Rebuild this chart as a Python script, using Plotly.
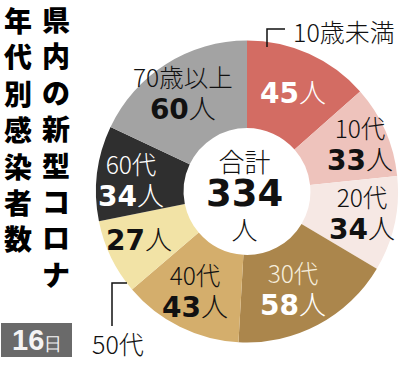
import plotly.graph_objects as go

# ---- data ----
categories = ["10歳未満", "10代", "20代", "30代", "40代", "50代", "60代", "70歳以上"]
counts = [45, 33, 34, 58, 43, 27, 34, 60]
total = sum(counts)
title_right = "県内の新型コロナ"
title_left = "年代別感染者数"
date_label = "16日"

# ---- styles ----
colors = ["#d36c63", "#eec3bc", "#f6e8e4", "#ab864c", "#d4ae6c", "#f2e3a6", "#2f2f2f", "#a3a3a3"]
cat_colors = ["#111", "#111", "#111", "#f6eedc", "#111", "#111", "#ffffff", "#111"]
num_colors = ["#ffffff", "#111", "#111", "#ffffff", "#111", "#111", "#ffffff", "#111"]
# label placement in pixels (layout only); None = category drawn outside the ring
cat_out = {0: (344, 31), 5: (118, 343)}
label_pos = [(293, 92), (360, 144), (362, 213), (293, 289), (195, 291), (139, 239), (131, 180), (183, 93)]

W, H = 400, 367
def px(x):
    return x / W
def py(y):
    return 1 - y / H

JP = "Noto Sans CJK JP"
NUM = "DejaVu Sans"

fig = go.Figure(go.Pie(
    values=counts, labels=categories, sort=False, direction="clockwise", rotation=0,
    hole=0.42, textinfo="none", hoverinfo="label+value",
    marker=dict(colors=colors, line=dict(width=0)),
    domain=dict(x=[px(96), px(398)], y=[py(343), py(40)]),
    showlegend=False,
))

def note(x, y, text, **font):
    return dict(x=px(x), y=py(y), text=text, showarrow=False,
                xref="paper", yref="paper", xanchor="center", yanchor="middle",
                align="center", font=font)

def count_html(n, color):
    return (f"<span style='font-family:{NUM};font-size:28px;color:{color}'><b>{n}</b></span>"
            f"<span style='font-size:27px;color:{color}'>人</span>")

ann = []
for i, (c, n, lp, cc, nc) in enumerate(zip(categories, counts, label_pos, cat_colors, num_colors)):
    if i in cat_out:
        ox, oy = cat_out[i]
        ann.append(note(ox, oy, c, family=JP, size=25, color="#111", weight=300))
        ann.append(note(lp[0], lp[1], count_html(n, nc), family=JP, size=25, color=nc, weight=300))
    else:
        ann.append(note(lp[0], lp[1], f"{c}<br>{count_html(n, nc)}",
                        family=JP, size=24.5, color=cc, weight=300))

# centre total
ann.append(note(244, 194,
                f"合計<br><span style='font-family:{NUM};font-size:37px'><b>{total}</b></span><br>人",
                family=JP, size=26, color="#111", weight=300))

# vertical title: one stacked annotation per column
tsize = 28
pitch = 1.3 * tsize
a = note(56, 19 + (len(title_right) - 1) * pitch / 2, "<br>".join(title_right),
         family=JP, size=tsize, color="#000", weight=900)
a["borderpad"] = 0
ann.append(a)
a = note(18, 20 + (len(title_left) - 1) * pitch / 2, "<br>".join(title_left),
         family=JP, size=tsize, color="#000", weight=900)
a["borderpad"] = 0
ann.append(a)

# date box
ann.append(note(37, 340,
                f"<b>{date_label[:-1]}</b><span style='font-size:18px'>{date_label[-1]}</span>",
                family="Liberation Sans", size=29, color="#f4f4f4"))

shapes = [
    dict(type="rect", xref="paper", yref="paper", x0=px(1), x1=px(72), y0=py(357), y1=py(323),
         fillcolor="#6a6a6a", line=dict(width=0), layer="below"),
    # bracket for 10歳未満
    dict(type="path", xref="paper", yref="paper",
         path=f"M {px(285)} {py(29)} L {px(267)} {py(29)} L {px(267)} {py(47)}",
         line=dict(color="#111", width=1.5)),
    # bracket for 50代
    dict(type="path", xref="paper", yref="paper",
         path=f"M {px(127)} {py(283)} L {px(112)} {py(283)} L {px(112)} {py(326)}",
         line=dict(color="#111", width=1.5)),
]

fig.update_layout(width=W, height=H, margin=dict(l=0, r=0, t=0, b=0),
                  paper_bgcolor="white", plot_bgcolor="white",
                  annotations=ann, shapes=shapes)
fig.write_html("out.html", config={"displayModeBar": False},
               post_script="document.body.style.margin='0';document.body.style.padding='0';")
